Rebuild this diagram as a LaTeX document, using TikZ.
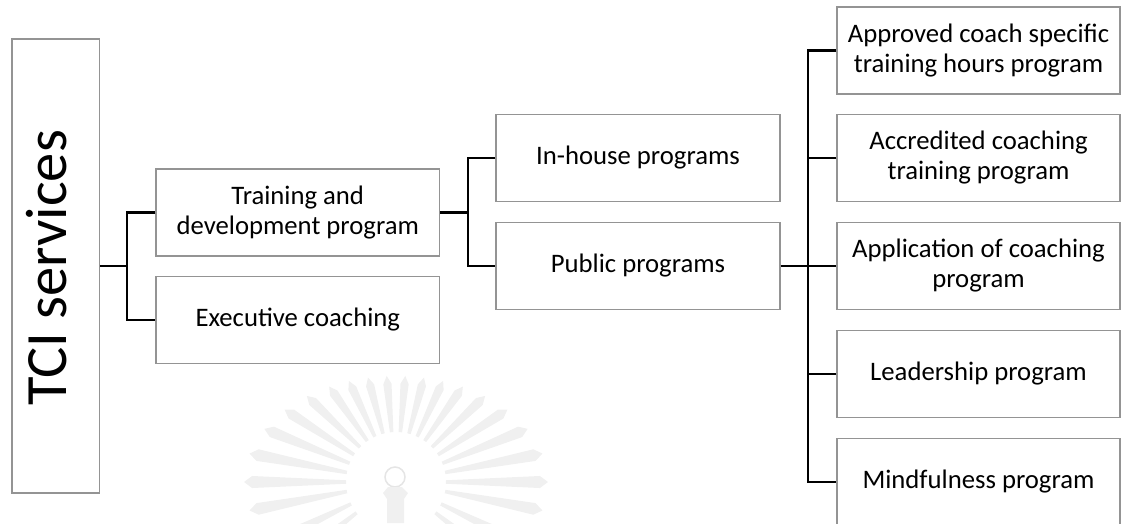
\documentclass[tikz,border=0pt]{standalone}
\usepackage{fontspec}
\setmainfont{Carlito}
\tikzset{
  x=1pt,y=-1pt,
  boxst/.style={draw=black!42,line width=1.2pt,fill=white,inner sep=0pt,align=center,font=\fontsize{26.7}{30}\selectfont,minimum width=#1,minimum height=87pt},
  link/.style={draw=black,line width=2.2pt},
  rayst/.style={fill=black!6,draw=none},
}
\newcommand{\up}[1]{\raisebox{3pt}{#1}}
\newcommand{\uptwo}[1]{\raisebox{4pt}{#1}}
\begin{document}
\begin{tikzpicture}
\useasboundingbox (0,0) rectangle (1129,523);
\clip (0,0) rectangle (1129,523);
% faint emblem
\foreach \a in {-38,-26,-11,0,11,22,33,44,55,65,75,85,95,105,115,125,136,147,158,169,180,191,206,218} {
  \pgfmathsetmacro{\Ro}{152/sqrt((cos(\a))^2+(sin(\a)*1.43)^2)}
  \pgfmathsetmacro{\xa}{396+50*cos(\a-2)}
  \pgfmathsetmacro{\ya}{482-50*sin(\a-2)}
  \pgfmathsetmacro{\xb}{396+50*cos(\a+2)}
  \pgfmathsetmacro{\yb}{482-50*sin(\a+2)}
  \pgfmathsetmacro{\xc}{396+(\Ro-8)*cos(\a+2.4)}
  \pgfmathsetmacro{\yc}{482-(\Ro-8)*sin(\a+2.4)}
  \pgfmathsetmacro{\xd}{396+\Ro*cos(\a)}
  \pgfmathsetmacro{\yd}{482-\Ro*sin(\a)}
  \pgfmathsetmacro{\xe}{396+(\Ro-8)*cos(\a-2.4)}
  \pgfmathsetmacro{\ye}{482-(\Ro-8)*sin(\a-2.4)}
  \fill[rayst] (\xa,\ya) -- (\xb,\yb) -- (\xc,\yc) -- (\xd,\yd) -- (\xe,\ye) -- cycle;
}
\draw[draw=black!10,line width=1.5pt,fill=white] (395,477) circle (10);
\fill[black!6] (383,493) -- (388,487) -- (402,487) -- (408,493) -- (404,499) -- (404,523) -- (387,523) -- (387,499) -- cycle;
% boxes
\node[boxst=87.5pt,minimum height=454pt] (tci) at (55.75,266) {};
\node[rotate=90,font=\fontsize{58.5}{64}\selectfont] (tcit) at (47,268) {TCI services};
\node[boxst=283.5pt] (train) at (297.75,212.5) {\uptwo{Training and}\\\uptwo{development program}};
\node[boxst=283.5pt] (exec) at (297.75,320) {\up{Executive coaching}};
\node[boxst=284pt] (inh) at (638,158) {\up{In-house programs}};
\node[boxst=284pt] (pub) at (638,266) {\up{Public programs}};
\node[boxst=283pt] (r1) at (978.5,50.5) {\uptwo{Approved coach specific}\\\uptwo{training hours program}};
\node[boxst=283pt] (r2) at (978.5,158) {\uptwo{Accredited coaching}\\\uptwo{training program}};
\node[boxst=283pt] (r3) at (978.5,266) {\uptwo{Application of coaching}\\\uptwo{program}};
\node[boxst=283pt] (r4) at (978.5,374) {\up{Leadership program}};
\node[boxst=283pt] (r5) at (978.5,482) {\up{Mindfulness program}};
% connectors
\coordinate (j1) at (127,266);
\coordinate (j2) at (468,212.5);
\coordinate (j3) at (808,266);
\draw[link] (tci.east |- j1) -- (j1);
\draw[link] (train.west) -| (j1) |- (exec.west);
\draw[link] (train.east) -- (j2);
\draw[link] (inh.west) -| (j2) |- (pub.west);
\draw[link] (pub.east) -- (r3.west);
\draw[link] (r1.west) -| (j3) |- (r5.west);
\draw[link] (r2.west) -- (j3 |- r2.west);
\draw[link] (r4.west) -- (j3 |- r4.west);
\end{tikzpicture}
\end{document}
